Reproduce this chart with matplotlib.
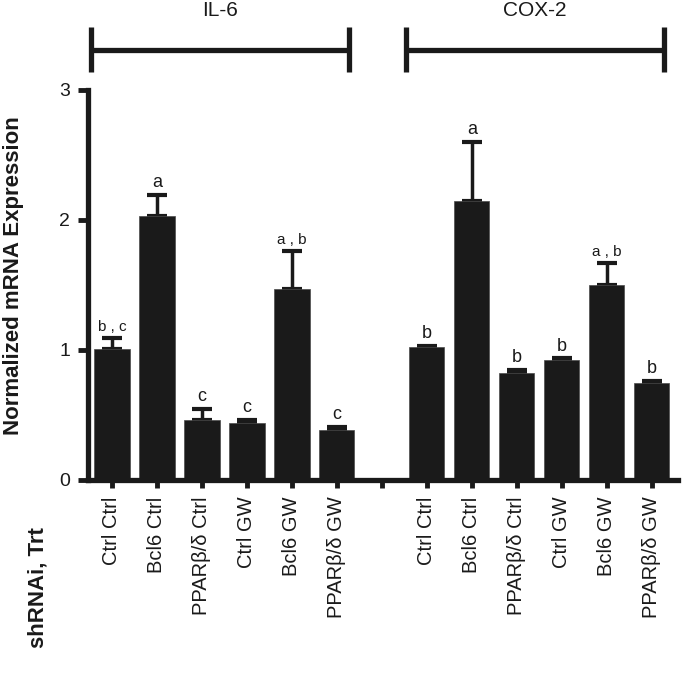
import numpy as np
import matplotlib.pyplot as plt

plt.rcParams['font.family'] = ['Liberation Sans', 'DejaVu Sans']

# data
genes = ['IL-6', 'COX-2']
labels = ['Ctrl Ctrl', 'Bcl6 Ctrl', 'PPARβ/δ Ctrl', 'Ctrl GW', 'Bcl6 GW', 'PPARβ/δ GW']
il6_mean = [1.01, 2.03, 0.46, 0.44, 1.47, 0.385]
il6_err = [0.085, 0.16, 0.09, 0.02, 0.295, 0.02]
il6_sig = ['b,c', 'a', 'c', 'c', 'a,b', 'c']
cox2_mean = [1.02, 2.15, 0.82, 0.92, 1.50, 0.745]
cox2_err = [0.01, 0.45, 0.03, 0.015, 0.167, 0.015]
cox2_sig = ['b', 'a', 'b', 'b', 'a,b', 'b']

n = len(labels)
pos1 = np.arange(n)
pos2 = np.arange(n) + n + 1
means = il6_mean + cox2_mean
errs = il6_err + cox2_err
sigs = il6_sig + cox2_sig
xpos = np.concatenate([pos1, pos2])

fig = plt.figure(figsize=(6.82, 6.78), dpi=100)
ax = fig.add_axes([88 / 682, 198 / 678, 590 / 682, 390 / 678])

bar_color = '#1a1a1a'
ax.bar(xpos, means, width=0.78, color=bar_color, edgecolor='#4a4a4a', linewidth=0.5, zorder=2)
ax.errorbar(xpos, means, yerr=[np.zeros(len(errs)), errs], fmt='none',
            ecolor=bar_color, elinewidth=2.5, capsize=7, capthick=3, zorder=1)

# significance letters
for x, m, e, s in zip(xpos, means, errs, sigs):
    fs = 11 if ',' in s else 13
    ax.text(x, m + e + 0.03, s.replace(',', ' , ') if ',' in s else s,
            ha='center', va='bottom', fontsize=fs, color='#1a1a1a')

ax.set_xlim(-0.533, 12.58)
ax.set_ylim(0, 3)
ax.set_yticks([0, 1, 2, 3])
ax.tick_params(axis='y', length=7, width=3.5, labelsize=14, pad=6, colors='#1a1a1a')
ax.set_xticks(np.arange(2 * n + 1))
ax.set_xticklabels(labels + [''] + labels, rotation=90, fontsize=14.5)
ax.tick_params(axis='x', length=6, width=3.5, pad=6, colors='#1a1a1a')
for side in ['top', 'right']:
    ax.spines[side].set_visible(False)
for side in ['left', 'bottom']:
    ax.spines[side].set_linewidth(3.8)
    ax.spines[side].set_color('#1a1a1a')

# gene brackets on top
for g, p in zip(genes, [pos1, pos2]):
    x0, x1 = p[0] - 0.47, p[-1] + 0.27
    kw = dict(color='#1a1a1a', lw=3.8, clip_on=False, solid_capstyle='butt')
    ax.plot([x0, x1], [3.31, 3.31], **kw)
    ax.plot([x0, x0], [3.14, 3.485], **kw)
    ax.plot([x1, x1], [3.14, 3.485], **kw)
    ax.text((x0 + x1) / 2, 3.615, g, ha='center', va='center', fontsize=15, color='#1a1a1a')

fig.text(0.02, 0.594, 'Normalized mRNA Expression', rotation=90, ha='center', va='center',
         fontsize=16, fontweight='bold', color='#1a1a1a')
fig.text(0.055, 0.133, 'shRNAi, Trt', rotation=90, ha='center', va='center',
         fontsize=16, fontweight='bold', color='#1a1a1a')

fig.savefig('out.png', dpi=100, facecolor='white')
